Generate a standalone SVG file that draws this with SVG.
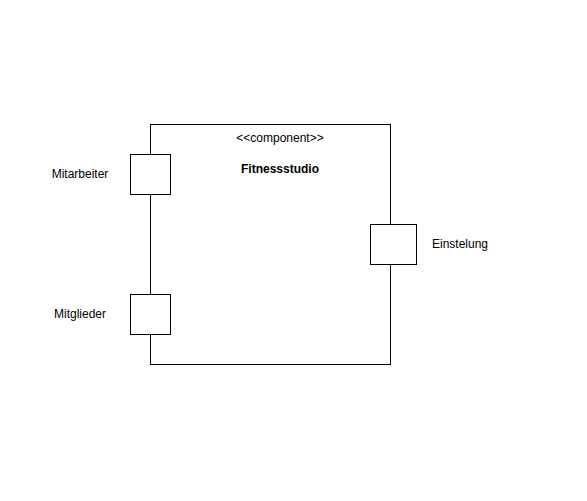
<svg xmlns="http://www.w3.org/2000/svg" width="587" height="501" viewBox="0 0 587 501">
<style>
.box{fill:#fff;stroke:#000;stroke-width:1}
.t{font-family:"Liberation Sans",Arial,sans-serif;font-size:12px;fill:#000;text-anchor:middle}
.b{font-weight:bold}
</style>
<rect width="587" height="501" fill="#fff"/>
<g id="component">
<rect class="box" x="150.5" y="124.5" width="240" height="240"/>
<text class="t" x="280" y="142">&lt;&lt;component&gt;&gt;</text>
<text class="t b" x="280" y="173">Fitnessstudio</text>
</g>
<g id="port-mitarbeiter">
<rect class="box" x="130.5" y="154.5" width="40" height="40"/>
<text class="t" x="80" y="178">Mitarbeiter</text>
</g>
<g id="port-mitglieder">
<rect class="box" x="130.5" y="294.5" width="40" height="40"/>
<text class="t" x="80" y="318">Mitglieder</text>
</g>
<g id="port-einstelung">
<rect class="box" x="370.5" y="224.5" width="46" height="40"/>
<text class="t" x="460" y="248">Einstelung</text>
</g>
<g id="connectors"></g>
</svg>
